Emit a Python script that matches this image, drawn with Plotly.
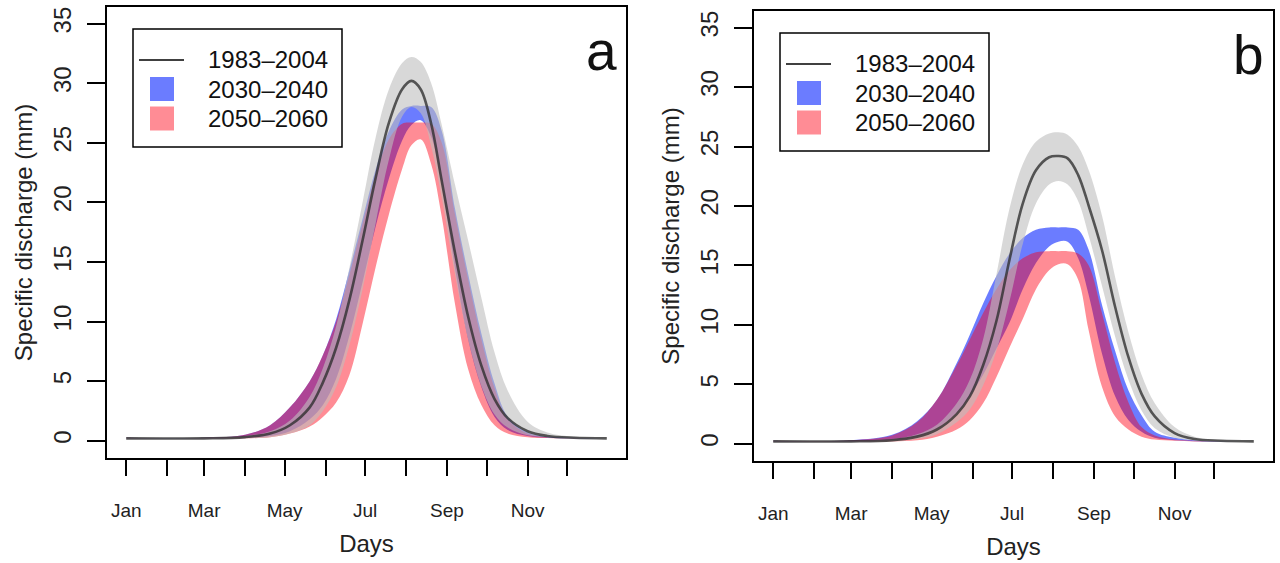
import plotly.graph_objects as go

W, H = 1280, 563

# ---------------- data ----------------
days = [1, 60, 91, 110, 125, 140, 150, 160, 170, 180, 190, 200, 210, 217, 224,
        232, 240, 250, 260, 270, 280, 290, 305, 320, 340, 365]

# panel a
mean_a = [0.2, 0.2, 0.3, 0.6, 1.3, 2.8, 4.9, 7.8, 11.8, 16.8, 22.1, 26.7, 29.5, 30.2, 29.5,
          26.6, 21.8, 15.8, 10.4, 6.3, 3.5, 1.9, 0.8, 0.4, 0.25, 0.2]
grey_hi_a = [0.25, 0.25, 0.4, 0.8, 1.7, 3.7, 6.1, 9.6, 14.5, 20.0, 25.5, 29.5, 31.7, 32.2, 31.8,
             30.0, 26.5, 21.5, 16.8, 12.0, 7.4, 4.2, 1.6, 0.7, 0.35, 0.25]
grey_lo_a = [0.2, 0.2, 0.2, 0.3, 0.6, 1.3, 2.5, 4.5, 8.0, 12.7, 18.3, 23.6, 27.2, 28.0, 27.5,
             24.7, 20.4, 14.0, 8.5, 4.6, 2.2, 1.1, 0.45, 0.3, 0.22, 0.2]
blue_hi_a = [0.25, 0.25, 0.5, 1.3, 2.8, 5.0, 7.2, 10.2, 14.3, 18.6, 22.8, 26.0, 27.8, 28.1, 28.1,
             28.0, 26.0, 19.5, 14.0, 9.0, 4.8, 2.0, 0.7, 0.35, 0.25, 0.2]
blue_lo_a = [0.2, 0.2, 0.25, 0.4, 0.8, 1.8, 3.0, 5.2, 8.8, 13.3, 18.0, 22.0, 25.2, 26.5, 26.9,
             25.5, 21.5, 14.5, 8.5, 4.5, 2.0, 0.9, 0.4, 0.25, 0.2, 0.2]
red_hi_a = [0.25, 0.25, 0.5, 1.3, 2.8, 5.0, 7.2, 10.0, 13.9, 18.2, 22.3, 25.3, 26.6, 26.7, 26.7,
            26.6, 25.0, 19.0, 13.5, 8.5, 4.4, 1.8, 0.6, 0.3, 0.22, 0.2]
red_lo_a = [0.2, 0.2, 0.2, 0.3, 0.6, 1.2, 2.0, 3.2, 5.5, 9.8, 14.6, 19.0, 22.8, 24.8, 25.3,
            23.2, 18.8, 11.5, 6.0, 3.0, 1.3, 0.6, 0.3, 0.22, 0.2, 0.2]

# panel b
mean_b = [0.2, 0.2, 0.3, 0.6, 1.2, 2.5, 4.0, 6.6, 10.3, 15.5, 20.2, 23.0, 24.1, 24.2, 24.0,
          22.6, 20.0, 16.3, 11.5, 7.3, 4.2, 2.3, 0.9, 0.4, 0.25, 0.2]
grey_hi_b = [0.25, 0.25, 0.4, 0.8, 1.6, 3.4, 5.4, 8.8, 14.2, 19.8, 23.5, 25.4, 26.1, 26.2, 26.0,
             25.0, 23.0, 19.2, 14.0, 9.4, 5.8, 3.4, 1.4, 0.6, 0.3, 0.25]
grey_lo_b = [0.2, 0.2, 0.2, 0.4, 0.8, 1.8, 2.9, 4.9, 7.8, 12.0, 16.8, 20.2, 21.8, 22.1, 21.8,
             20.4, 17.5, 13.3, 9.0, 5.4, 2.8, 1.3, 0.5, 0.3, 0.22, 0.2]
blue_hi_b = [0.25, 0.3, 0.75, 1.9, 3.7, 6.8, 9.2, 11.8, 14.1, 16.0, 17.3, 18.0, 18.2, 18.2, 18.2,
             18.0, 16.3, 11.7, 7.8, 4.5, 2.4, 1.0, 0.5, 0.3, 0.22, 0.2]
blue_lo_b = [0.2, 0.2, 0.3, 0.6, 1.3, 2.6, 4.0, 5.8, 8.0, 10.2, 13.0, 15.2, 16.6, 17.0, 17.0,
             15.6, 12.5, 7.6, 4.0, 2.0, 1.0, 0.5, 0.3, 0.22, 0.2, 0.2]
red_hi_b = [0.25, 0.3, 0.7, 1.8, 3.7, 6.6, 8.8, 11.0, 13.0, 14.6, 15.6, 16.1, 16.2, 16.2, 16.2,
            16.0, 15.0, 11.0, 6.8, 3.5, 1.4, 0.7, 0.35, 0.25, 0.2, 0.2]
red_lo_b = [0.2, 0.2, 0.2, 0.3, 0.6, 1.2, 2.0, 3.4, 5.6, 8.1, 10.5, 13.0, 14.6, 15.1, 15.1,
            13.8, 9.5, 4.8, 2.3, 1.2, 0.6, 0.35, 0.25, 0.2, 0.2, 0.2]

series_names = ["1983–2004", "2030–2040", "2050–2060"]
panel_letters = ["a", "b"]
month_ticks = [1, 32, 60, 91, 121, 152, 182, 213, 244, 274, 305, 335]
month_labels = ["Jan", "", "Mar", "", "May", "", "Jul", "", "Sep", "", "Nov", ""]
y_ticks = [0, 5, 10, 15, 20, 25, 30, 35]

# ---------------- styles ----------------
BLUE = "rgba(0,30,255,0.58)"
RED = "rgba(255,0,20,0.45)"
GREY = "rgba(190,190,190,0.6)"
LINE = "rgba(45,45,45,0.78)"
FONT = "Liberation Sans, Arial, Helvetica, sans-serif"

# frame pixel boxes (left, top, right, bottom)
frames = [(107, 7, 626, 458), (754, 11, 1273, 461)]

fig = go.Figure()

panels = [
    (mean_a, grey_lo_a, grey_hi_a, blue_lo_a, blue_hi_a, red_lo_a, red_hi_a),
    (mean_b, grey_lo_b, grey_hi_b, blue_lo_b, blue_hi_b, red_lo_b, red_hi_b),
]


def band(lo, hi, color, xa, ya, name):
    fig.add_trace(go.Scatter(x=days, y=lo, mode="lines", line=dict(width=0, shape="spline"),
                             xaxis=xa, yaxis=ya, showlegend=False, hoverinfo="skip"))
    fig.add_trace(go.Scatter(x=days, y=hi, mode="lines", line=dict(width=0, shape="spline"),
                             fill="tonexty", fillcolor=color, name=name,
                             xaxis=xa, yaxis=ya, showlegend=False))


for i, (mean, glo, ghi, blo, bhi, rlo, rhi) in enumerate(panels):
    xa = "x" if i == 0 else "x2"
    ya = "y" if i == 0 else "y2"
    band(blo, bhi, BLUE, xa, ya, series_names[1])
    band(rlo, rhi, RED, xa, ya, series_names[2])
    band(glo, ghi, GREY, xa, ya, series_names[0] + " range")
    fig.add_trace(go.Scatter(x=days, y=mean, mode="lines", name=series_names[0],
                             line=dict(color=LINE, width=2.6, shape="spline"),
                             xaxis=xa, yaxis=ya, showlegend=False))

axis_common = dict(showline=True, mirror=True, linecolor="black", linewidth=1.5,
                   showgrid=False, zeroline=False, ticks="outside", tickcolor="black",
                   tickwidth=1.5)

for i, (l, t, r, b) in enumerate(frames):
    sfx = "" if i == 0 else str(i + 1)
    fig.update_layout(**{
        "xaxis" + sfx: dict(axis_common, domain=[l / W, r / W], range=[-13.56, 379.56],
                            tickmode="array", tickvals=month_ticks, ticktext=month_labels,
                            ticklen=16, ticklabelstandoff=18,
                            tickfont=dict(family=FONT, size=19, color="#222"),
                            title=dict(text="Days", font=dict(family=FONT, size=24, color="#222"),
                                       standoff=16),
                            anchor="y" + sfx),
        "yaxis" + sfx: dict(axis_common, domain=[1 - b / H, 1 - t / H], range=[-1.45, 36.4],
                            tickmode="array", tickvals=y_ticks, tickangle=-90,
                            ticklen=18, ticklabelstandoff=7,
                            tickfont=dict(family=FONT, size=24, color="#222"),
                            title=dict(text="Specific discharge (mm)",
                                       font=dict(family=FONT, size=24, color="#222"),
                                       standoff=9),
                            anchor="x" + sfx),
    })

# ---------------- manual legends + panel letters ----------------
shapes = []
annotations = []
sw_colors = [BLUE, RED]
for i, (l, t, r, b) in enumerate(frames):
    def px(x):
        return (l + x) / W

    def py(y):
        return 1 - (t + y) / H

    shapes.append(dict(type="rect", xref="paper", yref="paper", x0=px(26), x1=px(235),
                       y0=py(140), y1=py(22), line=dict(color="black", width=1.5),
                       fillcolor="white", layer="above"))
    shapes.append(dict(type="line", xref="paper", yref="paper", x0=px(32), x1=px(77),
                       y0=py(53), y1=py(53), line=dict(color="black", width=1.5), layer="above"))
    for k, c in enumerate(sw_colors):
        yc = 82 + 29.5 * k
        shapes.append(dict(type="rect", xref="paper", yref="paper", x0=px(43), x1=px(67),
                           y0=py(yc + 12), y1=py(yc - 12), line=dict(width=0),
                           fillcolor=c, layer="above"))
    for k, name in enumerate(series_names):
        yc = 53 + 29.3 * k
        annotations.append(dict(xref="paper", yref="paper", x=px(99), y=py(yc), text=name,
                                showarrow=False, xanchor="left", yanchor="middle",
                                font=dict(family=FONT, size=24, color="#111")))
    annotations.append(dict(xref="paper", yref="paper", x=px(r - l - 25), y=py(44),
                            text=panel_letters[i], showarrow=False, xanchor="center",
                            yanchor="middle", font=dict(family=FONT, size=55, color="#111")))

fig.update_layout(width=W, height=H, margin=dict(l=0, r=0, t=0, b=0),
                  paper_bgcolor="white", plot_bgcolor="white", showlegend=False,
                  shapes=shapes, annotations=annotations)

fig.write_html("out.html")
